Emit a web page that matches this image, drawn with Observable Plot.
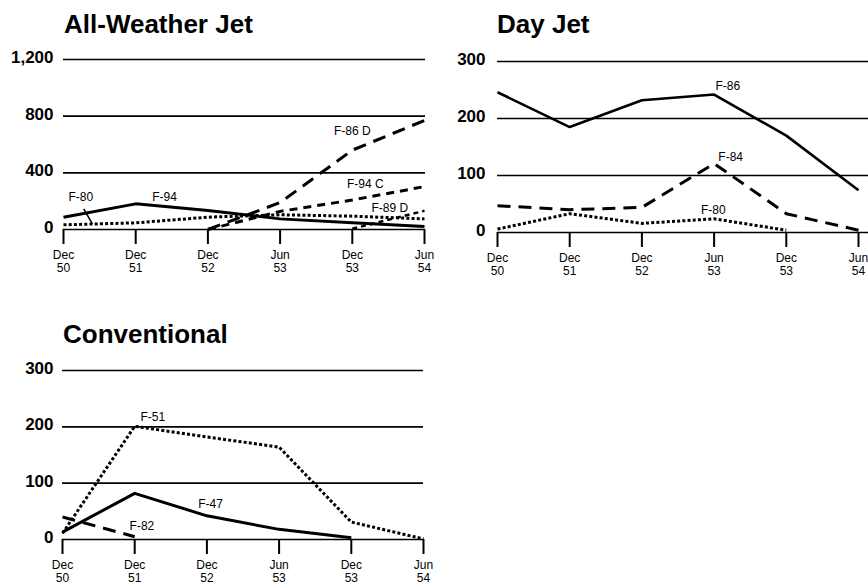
<!DOCTYPE html>
<html><head><meta charset="utf-8">
<script src="https://cdn.jsdelivr.net/npm/d3@7"></script>
<script src="https://cdn.jsdelivr.net/npm/@observablehq/plot@0.6"></script>
<style>
body{margin:0;background:#fff;}
#root{position:relative;width:868px;height:588px;font-family:"Liberation Sans",Arial,Helvetica,sans-serif;overflow:hidden;}
.title{position:absolute;font-weight:bold;font-size:26px;line-height:26px;color:#000;white-space:nowrap;}
.panel{position:absolute;}
.panel svg{overflow:visible;}
</style></head><body><div id="root"></div>
<script>
// ---- Shared categories (x axis) ----
const periods = ["Dec\n50","Dec\n51","Dec\n52","Jun\n53","Dec\n53","Jun\n54"];

// ---- All-Weather Jet ----
const awTicks = [0, 400, 800, 1200];
const awF94  = [87, 181, 134, 75, 47, 21];
const awF80  = [33, 47, 87, 104, 94, 75];
const awF86D = [null, null, 0, 190, 560, 770];
const awF94C = [null, null, 0, 128, 208, 303];
const awF89D = [null, null, null, null, 5, 132];
const awLabels = [
  {text: "F-80", i: 0.24, v: 226},
  {text: "F-94", i: 1.40, v: 228},
  {text: "F-86 D", i: 4.00, v: 692},
  {text: "F-94 C", i: 4.18, v: 318},
  {text: "F-89 D", i: 4.52, v: 152}
];
const awLeaders = [{i1: 0.28, v1: 146, i2: 0.40, v2: 40}];

// ---- Day Jet ----
const djTicks = [0, 100, 200, 300];
const djF86 = [246, 185, 232, 242, 170, 74];
const djF84 = [47, 40, 44, 121, 33, 4];
const djF80 = [6, 33, 16, 24, 4, null];
const djLabels = [
  {text: "F-86", i: 3.19, v: 257},
  {text: "F-84", i: 3.23, v: 133},
  {text: "F-80", i: 2.99, v: 40}
];

// ---- Conventional ----
const cvTicks = [0, 100, 200, 300];
const cvF51 = [11, 201, 182, 164, 31, 1];
const cvF47 = [13, 82, 42, 18, 3, null];
const cvF82 = [40, 5, null, null, null, null];
const cvLabels = [
  {text: "F-51", i: 1.25, v: 217},
  {text: "F-47", i: 2.05, v: 63},
  {text: "F-82", i: 1.10, v: 23}
];

// ---- Line styles ----
const SOLID = {strokeWidth: 3};
const DOTTED = {strokeWidth: 3, strokeDasharray: "3,2.2"};
const LONGDASH = {strokeWidth: 3, strokeDasharray: "13,8"};
const MEDDASH = {strokeWidth: 3, strokeDasharray: "8,6"};
const SHORTDASH = {strokeWidth: 2.5, strokeDasharray: "5,4"};

const toPts = vals => vals.map((v, i) => ({i, v})).filter(d => d.v != null);

const root = document.getElementById("root");

function addTitle(text, left, top) {
  const d = document.createElement("div");
  d.className = "title";
  d.textContent = text;
  d.style.left = left + "px";
  d.style.top = top + "px";
  root.appendChild(d);
}

function addPanel(cfg) {
  const marks = [
    Plot.ruleY(cfg.ticks, {stroke: "#000", strokeWidth: 1.6}),
    Plot.axisY({ticks: cfg.ticks, tickSize: 0, tickPadding: cfg.tickPadding,
      fontSize: 17, fontWeight: "bold", dy: -2}),
    Plot.axisX({ticks: [0,1,2,3,4,5], tickFormat: i => periods[i], tickSize: 15,
      tickPadding: 6, fontSize: 12, lineHeight: 1.05, strokeWidth: 2})
  ];
  for (const s of cfg.series) {
    marks.push(Plot.line(toPts(s.values), {x: "i", y: "v", stroke: "#000",
      strokeLinejoin: "round", strokeLinecap: "butt", ...s.style}));
  }
  if (cfg.leaders) marks.push(Plot.link(cfg.leaders, {x1: "i1", y1: "v1", x2: "i2", y2: "v2", stroke: "#000", strokeWidth: 1.5}));
  marks.push(Plot.text(cfg.labels, {x: "i", y: "v", text: "text", fontSize: 12, fill: "#000"}));
  const svg = Plot.plot({
    width: cfg.width, height: cfg.height,
    marginLeft: cfg.marginLeft, marginRight: cfg.marginRight,
    marginTop: cfg.marginTop, marginBottom: cfg.marginBottom,
    style: {fontFamily: '"Liberation Sans", Arial, sans-serif', color: "#000", background: "transparent"},
    x: {type: "linear", domain: [0, 5], insetRight: cfg.insetRight || 0, label: null},
    y: {domain: [0, cfg.ticks[cfg.ticks.length - 1]], label: null},
    marks
  });
  const wrap = document.createElement("div");
  wrap.className = "panel";
  wrap.style.left = cfg.left + "px";
  wrap.style.top = cfg.top + "px";
  wrap.appendChild(svg);
  root.appendChild(wrap);
}

addTitle("All-Weather Jet", 64, 11);
addPanel({left: 0, top: 44, width: 440, height: 240, marginLeft: 63, marginRight: 15,
  marginTop: 15, marginBottom: 55, insetRight: 1, ticks: awTicks, tickPadding: 10,
  series: [
    {values: awF94, style: SOLID},
    {values: awF80, style: DOTTED},
    {values: awF86D, style: LONGDASH},
    {values: awF94C, style: MEDDASH},
    {values: awF89D, style: SHORTDASH}
  ], labels: awLabels, leaders: awLeaders});

addTitle("Day Jet", 497, 11);
addPanel({left: 430, top: 44, width: 438, height: 240, marginLeft: 67, marginRight: 0,
  marginTop: 17, marginBottom: 52, insetRight: 10, ticks: djTicks, tickPadding: 12,
  series: [
    {values: djF86, style: {strokeWidth: 2.6}},
    {values: djF84, style: LONGDASH},
    {values: djF80, style: DOTTED}
  ], labels: djLabels});

addTitle("Conventional", 63, 321);
addPanel({left: 0, top: 350, width: 440, height: 238, marginLeft: 62, marginRight: 17,
  marginTop: 20, marginBottom: 49, insetRight: 0, ticks: cvTicks, tickPadding: 9,
  series: [
    {values: cvF51, style: DOTTED},
    {values: cvF47, style: SOLID},
    {values: cvF82, style: LONGDASH}
  ], labels: cvLabels});
</script>
</body></html>
